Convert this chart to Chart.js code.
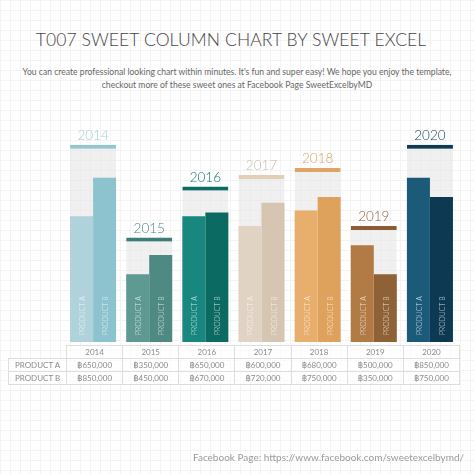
<!DOCTYPE html>
<html>
<head>
<meta charset="utf-8">
<script src="https://cdn.jsdelivr.net/npm/chart.js@4.4.1/dist/chart.umd.min.js"></script>
<style>
  html, body { margin: 0; padding: 0; }
  body {
    width: 474px; height: 474px; overflow: hidden; position: relative;
    font-family: Lato, "Open Sans", sans-serif;
    background-color: #fff;
    background-image:
      linear-gradient(#f3f3f3 1px, transparent 1px),
      linear-gradient(90deg, #f3f3f3 1px, transparent 1px);
    background-size: 10px 10px;
  }
  #title {
    position: absolute; left: 0; top: 29px; width: 462px; text-align: center;
    font-size: 17.5px; font-weight: 300; color: #444; letter-spacing: 0.1px;
  }
  #sub {
    position: absolute; left: 0; top: 66px; width: 474px; text-align: center;
    font-size: 8.6px; line-height: 13px; color: #666;
  }
  #chart { position: absolute; left: 0; top: 0; }
  #tbl {
    position: absolute; left: 8px; top: 345px; border-collapse: collapse;
    font-size: 8px; color: #8a8a8a; table-layout: fixed;
  }
  #tbl td { border: 1px solid #dedede; height: 12px; padding: 0; text-align: center; background: rgba(255,255,255,0.6); }
  #tbl td.lbl { width: 57px; }
  #tbl td.blank { border: none; background: none; }
  #foot {
    position: absolute; right: 10px; top: 451px;
    font-size: 10px; color: #9a9a9a;
  }
</style>
</head>
<body>
<div id="title">T007 SWEET COLUMN CHART BY SWEET EXCEL</div>
<div id="sub">You can create professional looking chart within minutes. It's fun and super easy! We hope you enjoy the template,<br>checkout more of these sweet ones at Facebook Page SweetExcelbyMD</div>
<canvas id="chart" width="474" height="474"></canvas>
<table id="tbl"></table>
<div id="foot">Facebook Page: https://www.facebook.com/sweetexcelbymd/</div>
<script>
const years = ['2014', '2015', '2016', '2017', '2018', '2019', '2020'];
const seriesNames = ['PRODUCT A', 'PRODUCT B'];
const productA = [650000, 350000, 650000, 600000, 680000, 500000, 850000];
const productB = [850000, 450000, 670000, 720000, 750000, 350000, 750000];
// grey backdrop height behind each pair
const backdrop = [1020000, 540000, 804000, 864000, 900000, 600000, 1020000];

const colorsA = ['#b0d2da', '#5f9a92', '#17877f', '#e0d3c3', '#e7ae6c', '#b27a45', '#1b5a79'];
const colorsB = ['#8dc3ce', '#4f8a82', '#0b6a62', '#d6c6b1', '#dfa25d', '#8f6136', '#0d3a52'];
const capColors = ['#94c6cf', '#3e7d77', '#0d6b66', '#e3cfb8', '#e0a562', '#8c5c34', '#0e3a52'];
const yearColors = ['#a3ccd3', '#4f8580', '#17706b', '#c9baa8', '#d9a166', '#8a6040', '#123d55'];

const money = v => '\u0E3F' + v.toLocaleString('en-US');

// table under the chart
const tbl = document.getElementById('tbl');
const colW = (458 - 65) / years.length;
let html = '<tr><td class="lbl blank"></td>' + years.map(y => `<td style="width:${colW - 1}px">${y}</td>`).join('') + '</tr>';
[productA, productB].forEach((arr, i) => {
  html += `<tr><td class="lbl">${seriesNames[i]}</td>` + arr.map(v => `<td>${money(v)}</td>`).join('') + '</tr>';
});
tbl.innerHTML = html;

const labelPlugin = {
  id: 'labels',
  afterDatasetsDraw(chart) {
    const ctx = chart.ctx;
    const bottom = chart.chartArea.bottom;
    // year above each cap
    chart.getDatasetMeta(0).data.forEach((el, i) => {
      ctx.save();
      ctx.font = '300 13.5px Lato, "Open Sans", sans-serif';
      ctx.fillStyle = yearColors[i];
      ctx.textAlign = 'center';
      ctx.fillText(years[i], el.x, el.y - 5);
      ctx.restore();
    });
    // vertical product names inside bars
    [1, 2].forEach(di => {
      chart.getDatasetMeta(di).data.forEach(el => {
        ctx.save();
        ctx.translate(el.x + 3.5, bottom - 7);
        ctx.rotate(-Math.PI / 2);
        ctx.font = '300 6.9px Lato, "Open Sans", sans-serif';
        ctx.fillStyle = 'rgba(255,255,255,0.78)';
        ctx.textAlign = 'left';
        ctx.fillText(seriesNames[di - 1], 0, 0);
        ctx.restore();
      });
    });
  }
};

new Chart(document.getElementById('chart'), {
  type: 'bar',
  data: {
    labels: years,
    datasets: [
      {
        label: 'backdrop',
        data: backdrop,
        grouped: false,
        backgroundColor: 'rgba(228,228,228,0.55)',
        borderColor: capColors,
        borderWidth: { top: 4, left: 0, right: 0, bottom: 0 },
        borderSkipped: 'bottom',
        categoryPercentage: 0.82,
        barPercentage: 1,
        order: 2
      },
      {
        label: seriesNames[0],
        data: productA,
        backgroundColor: colorsA,
        categoryPercentage: 0.82,
        barPercentage: 1,
        order: 1
      },
      {
        label: seriesNames[1],
        data: productB,
        backgroundColor: colorsB,
        categoryPercentage: 0.82,
        barPercentage: 1,
        order: 1
      }
    ]
  },
  options: {
    responsive: false,
    animation: false,
    devicePixelRatio: 1,
    layout: { padding: { left: 65, right: 16, top: 110, bottom: 132 } },
    plugins: { legend: { display: false }, tooltip: { enabled: false } },
    scales: {
      x: { display: false, offset: true },
      y: { display: false, min: 0, max: 1200000 }
    }
  },
  plugins: [labelPlugin]
});
</script>
</body>
</html>
